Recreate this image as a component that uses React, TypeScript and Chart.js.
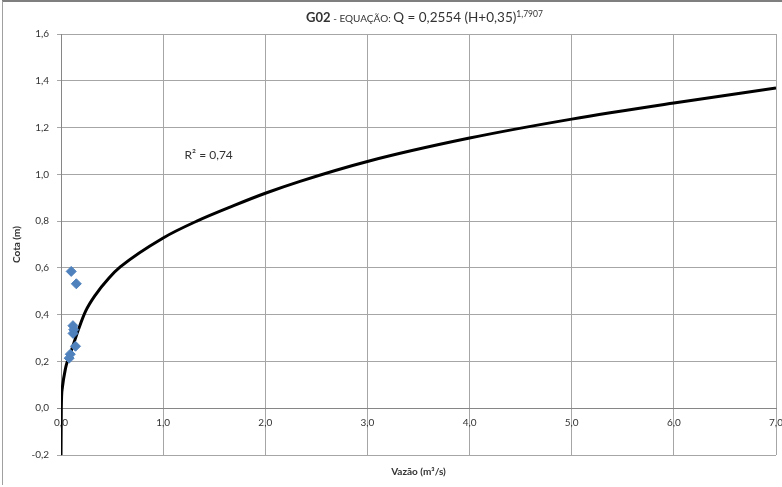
import React, { useEffect, useRef } from "react";
import { Chart, registerables } from "chart.js";

Chart.register(...registerables);

// Rating curve (vazão x cota)
const curveFlow = [0.0, 0.003, 0.013, 0.045, 0.062, 0.11, 0.176, 0.24, 0.338, 0.47, 0.58, 1.0, 1.33, 1.69, 2.0, 2.34, 3.0, 4.0, 5.0, 6.0, 7.0];
const curveStage = [-0.2, 0.0, 0.087, 0.172, 0.2, 0.258, 0.343, 0.414, 0.485, 0.557, 0.604, 0.728, 0.8, 0.866, 0.919, 0.97, 1.055, 1.155, 1.236, 1.305, 1.369];

// Measured discharges
const measuredFlow = [0.1, 0.15, 0.117, 0.125, 0.118, 0.142, 0.091, 0.08];
const measuredStage = [0.585, 0.532, 0.353, 0.336, 0.32, 0.265, 0.231, 0.214];

const xTicks = [0, 1, 2, 3, 4, 5, 6, 7];
const yTicks = [-0.2, 0, 0.2, 0.4, 0.6, 0.8, 1.0, 1.2, 1.4, 1.6];

const titleCode = "G02";
const titleLabel = " - EQUAÇÃO: ";
const titleEquation = "Q = 0,2554 (H+0,35)";
const titleExponent = "1,7907";
const r2Label = "R² = 0,74";
const r2Position = { x: 1.21, y: 1.067 };

const FONT = "Lato, 'Open Sans', sans-serif";
const TEXT = "#333333";
const GRID = "#a6a6a6";
const AXIS = "#868686";

const fmt = (v: number) => v.toFixed(1).replace(".", ",");

const decorations = {
  id: "decorations",
  beforeDraw(chart: any) {
    const { ctx, width, height } = chart;
    ctx.save();
    ctx.fillStyle = "#ffffff";
    ctx.fillRect(0, 0, width, height);
    ctx.strokeStyle = "#7f7f7f";
    ctx.lineWidth = 2;
    ctx.beginPath();
    ctx.moveTo(2, 1);
    ctx.lineTo(width, 1);
    ctx.stroke();
    ctx.strokeStyle = "#a0a0a0";
    ctx.lineWidth = 1;
    ctx.beginPath();
    ctx.moveTo(2.5, 1);
    ctx.lineTo(2.5, height - 2);
    ctx.stroke();
    ctx.restore();
  },
  afterDraw(chart: any) {
    const { ctx, chartArea, scales } = chart;
    ctx.save();
    ctx.fillStyle = TEXT;
    ctx.textBaseline = "alphabetic";
    ctx.textAlign = "left";
    const parts = [
      { t: titleCode, f: `bold 13px ${FONT}`, dy: 0 },
      { t: titleLabel, f: `10px ${FONT}`, dy: 0 },
      { t: titleEquation, f: `13.5px ${FONT}`, dy: 0 },
      { t: titleExponent, f: `8.5px ${FONT}`, dy: -5 },
    ];
    let total = 0;
    for (const p of parts) {
      ctx.font = p.f;
      total += ctx.measureText(p.t).width;
    }
    let x = (chartArea.left + chartArea.right) / 2 + 6 - total / 2;
    const base = 22;
    for (const p of parts) {
      ctx.font = p.f;
      ctx.fillText(p.t, x, base + p.dy);
      x += ctx.measureText(p.t).width;
    }
    ctx.font = `12px ${FONT}`;
    ctx.fillText(r2Label, scales.x.getPixelForValue(r2Position.x), scales.y.getPixelForValue(r2Position.y));
    ctx.restore();
  },
};

export default function App() {
  const canvasRef = useRef<HTMLCanvasElement>(null);

  useEffect(() => {
    document.body.style.margin = "0";
    const canvas = canvasRef.current;
    if (!canvas) return;
    const isZero = (v: number) => Math.abs(v) < 1e-9;
    const chart = new Chart(canvas, {
      type: "scatter",
      data: {
        datasets: [
          {
            label: "Medições",
            data: measuredFlow.map((q, i) => ({ x: q, y: measuredStage[i] })),
            pointStyle: "rectRot",
            pointRadius: 5,
            backgroundColor: "#4f81bd",
            borderColor: "#4f81bd",
            borderWidth: 1,
            order: 0,
          },
          {
            label: "Curva-chave",
            data: curveFlow.map((q, i) => ({ x: q, y: curveStage[i] })),
            showLine: true,
            borderColor: "#000000",
            borderWidth: 3,
            pointRadius: 0,
            cubicInterpolationMode: "monotone",
            order: 1,
          },
        ],
      } as any,
      options: {
        responsive: false,
        animation: false,
        events: [],
        layout: { padding: { top: 34, right: 5, bottom: 5, left: 0 } },
        plugins: { legend: { display: false }, title: { display: false }, tooltip: { enabled: false } },
        scales: {
          x: {
            type: "linear",
            position: "bottom",
            min: 0,
            max: 7,
            afterBuildTicks: (s: any) => { s.ticks = xTicks.map((v) => ({ value: v })); },
            ticks: { display: false },
            grid: {
              color: (c: any) => (c.tick && isZero(c.tick.value) ? AXIS : GRID),
              lineWidth: 1,
              drawTicks: false,
            },
            border: { display: false },
            title: {
              display: true,
              text: "Vazão (m³/s)",
              color: TEXT,
              font: { family: FONT, size: 10, weight: "bold" },
              padding: { top: 0, bottom: 4 },
            },
            afterFit: (s: any) => { s.height = 27; },
          },
          x2: {
            type: "linear",
            axis: "x",
            position: { y: 0 },
            min: 0,
            max: 7,
            afterBuildTicks: (s: any) => { s.ticks = xTicks.map((v) => ({ value: v })); },
            ticks: {
              color: TEXT,
              font: { family: FONT, size: 10 },
              padding: 1,
              maxRotation: 0,
              callback: (v: any) => fmt(Number(v)),
            },
            grid: { display: false },
            border: { display: true, color: AXIS, width: 1 },
            afterFit: (s: any) => { s.paddingLeft = 0; s.paddingRight = 0; },
          },
          y: {
            type: "linear",
            position: "left",
            min: -0.2,
            max: 1.6,
            afterBuildTicks: (s: any) => { s.ticks = yTicks.map((v) => ({ value: v })); },
            ticks: {
              color: TEXT,
              font: { family: FONT, size: 10 },
              padding: 8,
              callback: (v: any) => fmt(Number(v)),
            },
            grid: {
              color: (c: any) => (c.tick && isZero(c.tick.value) ? AXIS : GRID),
              lineWidth: 1,
              tickLength: 4,
            },
            border: { display: true, color: AXIS, width: 1 },
            title: {
              display: true,
              text: "Cota (m)",
              color: TEXT,
              font: { family: FONT, size: 10, weight: "bold" },
              padding: { top: 11, bottom: 0 },
            },
            afterFit: (s: any) => { s.width = 61; },
          },
        },
      } as any,
      plugins: [decorations],
    });
    return () => chart.destroy();
  }, []);

  return (
    <div style={{ width: 782, height: 487 }}>
      <canvas ref={canvasRef} width={782} height={487} />
    </div>
  );
}
